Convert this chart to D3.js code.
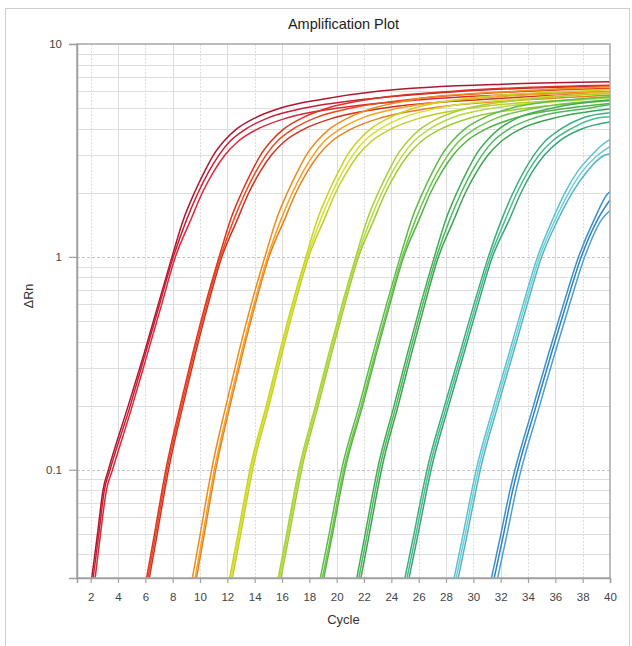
<!DOCTYPE html>
<html>
<head>
<meta charset="utf-8">
<script src="https://cdn.jsdelivr.net/npm/d3@7"></script>
<style>
  html, body { margin: 0; padding: 0; background: #ffffff; }
  svg { display: block; }
  text { font-family: "Liberation Sans", Arial, Helvetica, sans-serif; }
</style>
</head>
<body>
<script>
// ---------------- DATA ----------------
// ΔRn levels; each curve lists the cycle at which it reaches each level,
// followed by its ΔRn value at the last cycle (40).
const levels = [0.02, 0.03, 0.05, 0.08, 0.1, 0.2, 0.35, 0.6, 1, 1.5, 2, 2.5, 3, 3.5, 4, 4.5, 5, 5.5, 6, 6.5];
const lastCycle = 40;

const cycleTicks = [2, 4, 6, 8, 10, 12, 14, 16, 18, 20, 22, 24, 26, 28, 30, 32, 34, 36, 38, 40];
const rnTicks = [0.1, 1, 10];
const rnTickLabels = ["0.1", "1", "10"];

const g1Cycles = [
  [1.7, 2.05, 2.5, 2.9, 3.3, 4.75, 5.9, 6.95, 7.95, 8.79, 9.59, 10.31, 10.97, 11.76, 12.71, 14.05, 15.9, 18.95, 23.0, 33.0],
  [1.8, 2.15, 2.6, 3.0, 3.42, 4.9, 6.0, 7.05, 8.05, 9.03, 9.86, 10.62, 11.37, 12.21, 13.39, 14.98, 17.65, 22.05, 29.15],
  [1.95, 2.3, 2.72, 3.15, 3.6, 5.05, 6.15, 7.2, 8.2, 9.34, 10.17, 10.98, 11.81, 12.82, 14.27, 16.4, 20.1, 26.6]
];
const g1End = [6.65, 6.35, 5.95];

const g2Cycles = [
  [5.55, 6.05, 6.67, 7.22, 7.5, 8.55, 9.46, 10.4, 11.4, 12.24, 13.04, 13.76, 14.42, 15.21, 16.16, 17.5, 19.35, 22.4, 28.5],
  [5.65, 6.15, 6.77, 7.32, 7.6, 8.65, 9.56, 10.5, 11.5, 12.48, 13.31, 14.07, 14.82, 15.66, 16.84, 18.43, 21.1, 25.5, 34.0],
  [5.75, 6.25, 6.87, 7.42, 7.7, 8.75, 9.66, 10.6, 11.6, 12.74, 13.57, 14.38, 15.21, 16.22, 17.67, 19.8, 23.5, 31.0]
];
const g2End = [6.4, 6.2, 5.9];

const g3Cycles = [
  [8.9, 9.4, 10.02, 10.57, 10.85, 11.9, 12.81, 13.75, 14.75, 15.59, 16.39, 17.11, 17.77, 18.56, 19.51, 20.85, 22.7, 25.75, 33.0],
  [9.1, 9.6, 10.22, 10.77, 11.05, 12.1, 13.01, 13.95, 14.95, 15.93, 16.76, 17.52, 18.27, 19.11, 20.29, 21.88, 24.55, 29.5],
  [9.2, 9.7, 10.32, 10.87, 11.15, 12.2, 13.11, 14.05, 15.05, 16.19, 17.02, 17.83, 18.66, 19.67, 21.12, 23.25, 26.95, 34.5]
];
const g3End = [6.3, 5.95, 5.75];

const g4Cycles = [
  [11.61, 12.13, 12.78, 13.36, 13.65, 14.85, 15.79, 16.75, 17.75, 18.59, 19.39, 20.11, 20.77, 21.56, 22.51, 23.85, 25.7, 29.0, 37.5],
  [11.71, 12.23, 12.88, 13.46, 13.75, 14.95, 15.89, 16.85, 17.85, 18.83, 19.66, 20.42, 21.17, 22.01, 23.19, 24.78, 27.45, 33.0],
  [11.81, 12.33, 12.98, 13.56, 13.85, 15.05, 15.99, 16.95, 17.95, 19.09, 19.92, 20.73, 21.56, 22.57, 24.02, 26.15, 29.85, 38.0]
];
const g4End = [6.1, 5.9, 5.6];

const g5Cycles = [
  [15.14, 15.68, 16.34, 16.93, 17.23, 18.45, 19.42, 20.4, 21.4, 22.24, 23.04, 23.76, 24.42, 25.21, 26.16, 27.5, 29.6, 34.0],
  [15.24, 15.78, 16.44, 17.03, 17.33, 18.55, 19.52, 20.5, 21.5, 22.48, 23.31, 24.07, 24.82, 25.66, 26.84, 28.43, 31.5, 38.5],
  [15.34, 15.88, 16.54, 17.13, 17.43, 18.65, 19.62, 20.6, 21.6, 22.74, 23.57, 24.38, 25.21, 26.22, 27.67, 29.8, 34.0]
];
const g5End = [5.85, 5.6, 5.4];

const g6Cycles = [
  [18.21, 18.76, 19.45, 20.05, 20.36, 21.65, 22.65, 23.65, 24.65, 25.49, 26.29, 27.01, 27.67, 28.46, 29.41, 30.75, 32.8, 37.5],
  [18.36, 18.91, 19.6, 20.2, 20.51, 21.8, 22.8, 23.8, 24.8, 25.78, 26.61, 27.37, 28.12, 28.96, 30.14, 31.73, 34.6],
  [18.46, 19.01, 19.7, 20.3, 20.61, 21.9, 22.9, 23.9, 24.9, 26.04, 26.87, 27.68, 28.51, 29.52, 30.97, 33.1, 37.0]
];
const g6End = [5.65, 5.45, 5.25];

const g7Cycles = [
  [20.89, 21.43, 22.09, 22.68, 22.98, 24.2, 25.17, 26.15, 27.15, 27.99, 28.79, 29.51, 30.17, 30.96, 31.91, 33.25, 35.8],
  [21.04, 21.58, 22.24, 22.83, 23.13, 24.35, 25.32, 26.3, 27.3, 28.28, 29.11, 29.87, 30.62, 31.46, 32.64, 34.5, 38.5],
  [21.19, 21.73, 22.39, 22.98, 23.28, 24.5, 25.47, 26.45, 27.45, 28.59, 29.42, 30.23, 31.06, 32.07, 33.52, 36.0]
];
const g7End = [5.45, 5.2, 4.95];

const g8Cycles = [
  [24.37, 24.95, 25.66, 26.29, 26.61, 27.9, 29.0, 30.05, 31.1, 32.08, 32.91, 33.67, 34.42, 35.26, 36.44, 38.03],
  [24.52, 25.1, 25.81, 26.44, 26.76, 28.05, 29.15, 30.2, 31.25, 32.35, 33.19, 33.98, 34.8, 35.78, 37.16, 39.15],
  [24.67, 25.25, 25.96, 26.59, 26.91, 28.2, 29.3, 30.35, 31.4, 32.64, 33.49, 34.3, 35.19, 36.29, 37.97]
];
const g8End = [4.75, 4.55, 4.3];

const g9Cycles = [
  [27.97, 28.55, 29.26, 29.89, 30.21, 31.5, 32.6, 33.65, 34.7, 35.8, 36.7, 37.6, 38.65, 39.8],
  [28.12, 28.7, 29.41, 30.04, 30.36, 31.65, 32.75, 33.8, 34.85, 36.0, 36.98, 37.93, 39.09],
  [28.27, 28.85, 29.56, 30.19, 30.51, 31.8, 32.9, 33.95, 35.0, 36.2, 37.23, 38.28, 39.6]
];
const g9End = [3.55, 3.3, 3.05];

const g10Cycles = [
  [30.7, 31.28, 32.02, 32.68, 33.05, 34.4, 35.5, 36.6, 37.7, 38.85, 39.9],
  [30.9, 31.48, 32.22, 32.88, 33.25, 34.6, 35.7, 36.8, 37.9, 39.1],
  [31.15, 31.73, 32.47, 33.13, 33.5, 34.85, 35.95, 37.05, 38.15, 39.4]
];
const g10End = [2.02, 1.85, 1.65];

// ---------------- STYLE ----------------
const groupColors = [
  ["#b0182f", "#c8203a", "#d82a38"],
  ["#dc3620", "#e84a22", "#d23020"],
  ["#ec8c1c", "#f4a026", "#e6801e"],
  ["#c6d424", "#d6e030", "#bfcf26"],
  ["#a8d038", "#b8da42", "#9fcb32"],
  ["#5ebb48", "#70c44c", "#55b246"],
  ["#42ac56", "#50b860", "#3ca452"],
  ["#3cae7e", "#4cbc8c", "#36a676"],
  ["#5cc2cc", "#72ccd6", "#50b6c4"],
  ["#3c90ca", "#2e80bc", "#4c9ed2"]
];

const groups = [
  [g1Cycles, g1End], [g2Cycles, g2End], [g3Cycles, g3End], [g4Cycles, g4End], [g5Cycles, g5End],
  [g6Cycles, g6End], [g7Cycles, g7End], [g8Cycles, g8End], [g9Cycles, g9End], [g10Cycles, g10End]
];

// ---------------- CHART ----------------
const W = 632, H = 646;
const pLeft = 77, pRight = 610, pTop = 44, pBottom = 578;

const svg = d3.select("body").append("svg").attr("width", W).attr("height", H);

// outer frame
svg.append("rect").attr("x", 5.5).attr("y", 8.5).attr("width", 624).attr("height", 680)
  .attr("fill", "none").attr("stroke", "#cfcfcf").attr("stroke-width", 1);

const x = d3.scaleLinear().domain([1, lastCycle]).range([pLeft, pRight]);
const y = d3.scaleLog().domain([0.031, 10]).range([pBottom, pTop]);

// grid
const grid = svg.append("g");
grid.selectAll("line.v").data(cycleTicks.filter(c => c < lastCycle)).join("line")
  .attr("x1", d => Math.round(x(d)) + 0.5).attr("x2", d => Math.round(x(d)) + 0.5)
  .attr("y1", pTop).attr("y2", pBottom)
  .attr("stroke", "#dcdcdc").attr("stroke-width", 1)
  .attr("stroke-dasharray", (d, i) => (i % 2 === 0 ? "2,1.5" : null));

const minor = y.ticks().filter(v => !rnTicks.includes(v) && v < 10);
grid.selectAll("line.h").data(minor).join("line")
  .attr("x1", pLeft).attr("x2", pRight)
  .attr("y1", d => Math.round(y(d)) + 0.5).attr("y2", d => Math.round(y(d)) + 0.5)
  .attr("stroke", "#dedede").attr("stroke-width", 1);

grid.selectAll("line.hm").data(rnTicks.filter(v => v < 10)).join("line")
  .attr("x1", pLeft).attr("x2", pRight)
  .attr("y1", d => Math.round(y(d)) + 0.5).attr("y2", d => Math.round(y(d)) + 0.5)
  .attr("stroke", "#c4c4c4").attr("stroke-width", 1).attr("stroke-dasharray", "3,2");

// clip
svg.append("clipPath").attr("id", "plotclip").append("rect")
  .attr("x", pLeft).attr("y", pTop).attr("width", pRight - pLeft).attr("height", pBottom - pTop);

const line = d3.line().x(d => x(d[0])).y(d => y(d[1])).curve(d3.curveMonotoneX);

const curves = svg.append("g").attr("clip-path", "url(#plotclip)");
groups.forEach(([cyc, ends], gi) => {
  [2, 1, 0].forEach(r => {
    const pts = cyc[r].map((c, i) => [c, levels[i]]);
    pts.push([lastCycle, ends[r]]);
    curves.append("path").attr("d", line(pts))
      .attr("fill", "none").attr("stroke", groupColors[gi][r])
      .attr("stroke-width", 1.5).attr("stroke-linejoin", "round");
  });
});

// plot frame
svg.append("rect").attr("x", pLeft).attr("y", pTop).attr("width", pRight - pLeft).attr("height", pBottom - pTop)
  .attr("fill", "none").attr("stroke", "#a8a8a8").attr("stroke-width", 1.5);

// axes
const xAxis = d3.axisBottom(x).tickValues(cycleTicks).tickSize(5).tickPadding(10).tickFormat(d3.format("d"));
const gx = svg.append("g").attr("transform", `translate(0,${pBottom})`).call(xAxis);
gx.select(".domain").attr("stroke", "#a0a0a0").attr("stroke-width", 1.5);
gx.selectAll(".tick line").attr("stroke", "#a0a0a0").attr("stroke-width", 1.2);
gx.selectAll(".tick text").attr("fill", "#444").attr("font-size", 11.5)
  .attr("font-family", "'Liberation Sans', Arial, sans-serif");

const yAxis = d3.axisLeft(y).tickValues(rnTicks).tickSize(8).tickPadding(7)
  .tickFormat((d, i) => rnTickLabels[i]);
const gy = svg.append("g").attr("transform", `translate(${pLeft},0)`).call(yAxis);
gy.select(".domain").attr("stroke", "#a0a0a0").attr("stroke-width", 1.5);
gy.selectAll(".tick line").attr("stroke", "#a0a0a0").attr("stroke-width", 1.2);
gy.selectAll(".tick text").attr("fill", "#444").attr("font-size", 11.5)
  .attr("font-family", "'Liberation Sans', Arial, sans-serif");

// titles
svg.append("text").attr("x", 343.5).attr("y", 29).attr("text-anchor", "middle")
  .attr("font-size", 14.5).attr("fill", "#222").text("Amplification Plot");
svg.append("text").attr("x", 343.5).attr("y", 624).attr("text-anchor", "middle")
  .attr("font-size", 13).attr("fill", "#333").text("Cycle");
svg.append("text").attr("transform", "translate(33,296) rotate(-90)").attr("text-anchor", "middle")
  .attr("font-size", 12.5).attr("fill", "#333").text("ΔRn");
</script>
</body>
</html>
